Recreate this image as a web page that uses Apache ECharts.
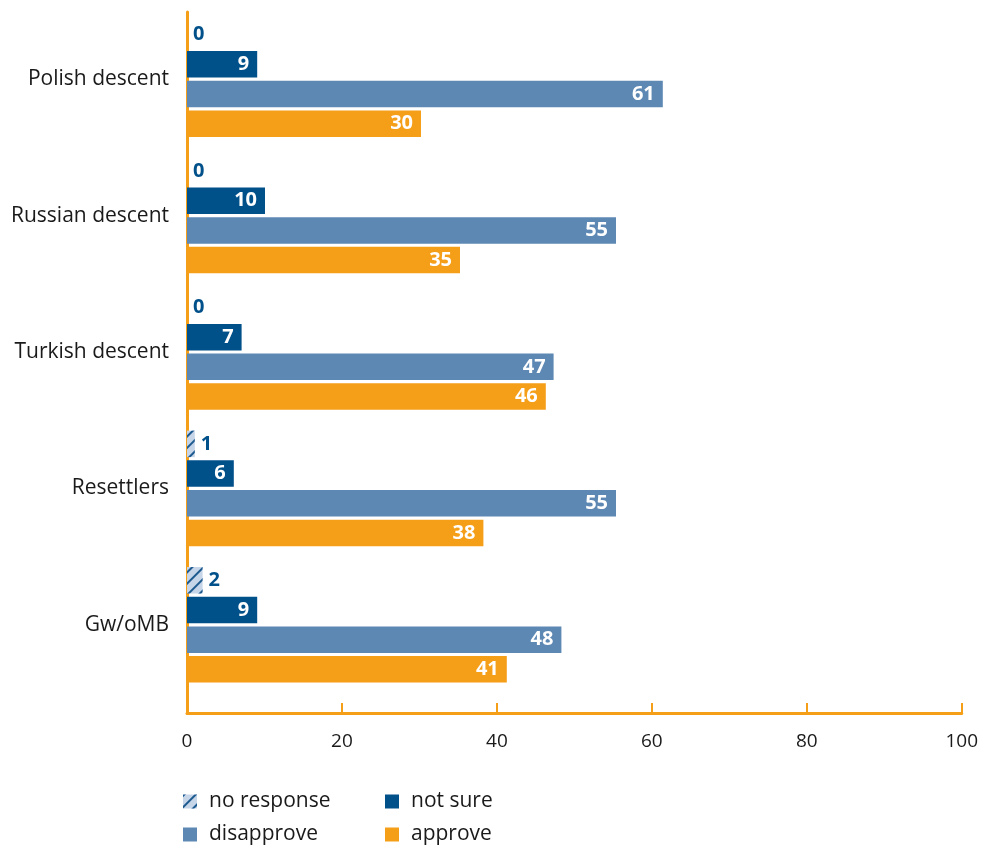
<!DOCTYPE html>
<html>
<head>
<meta charset="utf-8">
<script src="https://cdn.jsdelivr.net/npm/echarts@6/dist/echarts.min.js"></script>
<style>
  html, body { margin: 0; padding: 0; background: #fff; }
  #chart { width: 981px; height: 847px; }
</style>
</head>
<body>
<div id="chart"></div>
<script>
// Attitudes by group (percent)
const categories = ['Polish descent', 'Russian descent', 'Turkish descent', 'Resettlers', 'Gw/oMB'];
const noResponse = [0, 0, 0, 1, 2];
const notSure = [9, 10, 7, 6, 9];
const disapprove = [61, 55, 47, 55, 48];
const approve = [30, 35, 46, 38, 41];
const xTicks = [0, 20, 40, 60, 80, 100];

const ORANGE = '#f59e17';
const NAVY = '#00508a';
const STEEL = '#5d88b3';
const PALE = '#c6d5e8';
const FONT = '"Open Sans", "Noto Sans", sans-serif';

const chart = echarts.init(document.getElementById('chart'), null, { renderer: 'canvas' });

const insideLabel = {
  show: true, position: 'insideRight', distance: 8,
  color: '#fff', fontWeight: 'bold', fontSize: 20, fontFamily: FONT
};
const outsideLabel = {
  show: true, position: 'right', distance: 6,
  color: NAVY, fontWeight: 'bold', fontSize: 20, fontFamily: FONT
};

const legendText = { fontSize: 21, color: '#1a1a1a', fontFamily: FONT, padding: [0, 0, 0, 7] };
function legendAt(name, left, top) {
  return {
    data: [name], left: left, top: top, orient: 'horizontal',
    itemWidth: 14, itemHeight: 14, itemGap: 0, padding: 0,
    icon: 'rect', textStyle: legendText, selectedMode: false
  };
}

chart.setOption({
  backgroundColor: '#fff',
  animation: false,
  legend: [
    legendAt('no response', 183, 791),
    legendAt('not sure', 385, 791),
    legendAt('disapprove', 183, 824),
    legendAt('approve', 385, 824)
  ],
  grid: [
    // bar area
    { left: 187, right: 14, top: 11, height: 682, containLabel: false },
    // axis frame
    { left: 187, right: 14, top: 12, height: 701, containLabel: false }
  ],
  xAxis: [
    { type: 'value', gridIndex: 0, min: 0, max: 100, show: false },
    {
      type: 'value', gridIndex: 1, min: 0, max: 100, interval: 20,
      axisLine: { show: true, lineStyle: { color: ORANGE, width: 3 } },
      axisTick: { show: true, inside: true, length: 10, lineStyle: { color: ORANGE, width: 2 } },
      axisLabel: {
        margin: 19, fontSize: 19, color: '#1a1a1a', fontFamily: FONT,
        formatter: v => xTicks.includes(v) ? String(v) : ''
      },
      splitLine: { show: false }
    }
  ],
  yAxis: [
    {
      type: 'category', gridIndex: 0, data: categories, inverse: true,
      axisLine: { show: false }, axisTick: { show: false },
      axisLabel: { margin: 18, fontSize: 21, color: '#1a1a1a', fontFamily: FONT }
    },
    {
      type: 'value', gridIndex: 1, min: 0, max: 1,
      axisLine: { show: true, lineStyle: { color: ORANGE, width: 3 } },
      axisTick: { show: false }, axisLabel: { show: false }, splitLine: { show: false }
    }
  ],
  series: [
    {
      name: 'no response', type: 'bar', data: noResponse,
      xAxisIndex: 0, yAxisIndex: 0,
      barWidth: 26.5, barGap: '12%',
      itemStyle: {
        color: PALE,
        decal: {
          symbol: 'rect', symbolSize: 1,
          dashArrayX: [1, 0], dashArrayY: [1.4, 5.5],
          rotation: -Math.PI / 4, color: '#1d5a8f'
        }
      },
      label: outsideLabel
    },
    {
      name: 'not sure', type: 'bar', data: notSure,
      xAxisIndex: 0, yAxisIndex: 0, barWidth: 26.5, barGap: '12%',
      itemStyle: { color: NAVY }, label: insideLabel
    },
    {
      name: 'disapprove', type: 'bar', data: disapprove,
      xAxisIndex: 0, yAxisIndex: 0, barWidth: 26.5, barGap: '12%',
      itemStyle: { color: STEEL }, label: insideLabel
    },
    {
      name: 'approve', type: 'bar', data: approve,
      xAxisIndex: 0, yAxisIndex: 0, barWidth: 26.5, barGap: '12%',
      itemStyle: { color: ORANGE }, label: insideLabel
    }
  ]
});
</script>
</body>
</html>
